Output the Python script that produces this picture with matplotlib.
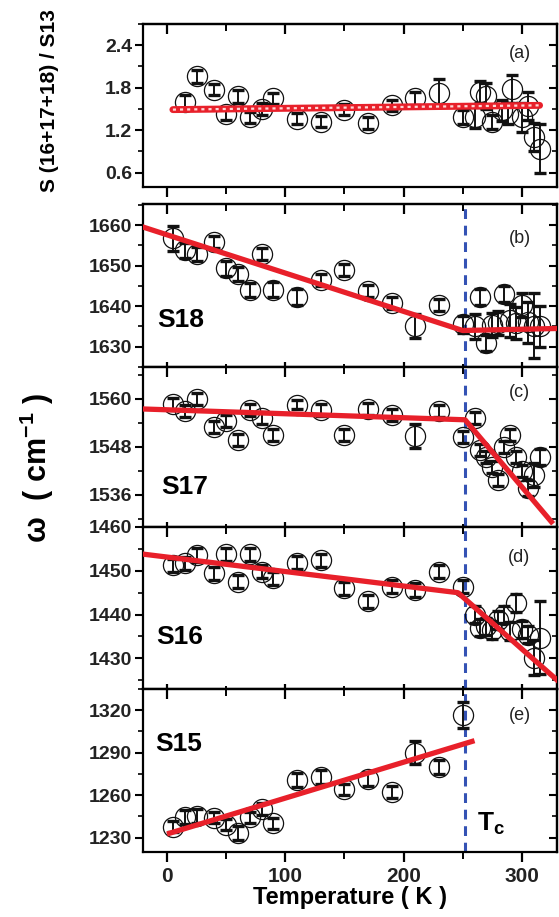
import numpy as np
import matplotlib.pyplot as plt
from matplotlib.ticker import MultipleLocator, FixedLocator

plt.rcParams['font.family'] = ['Liberation Sans', 'DejaVu Sans']
plt.rcParams['font.weight'] = 'bold'
plt.rcParams['mathtext.fontset'] = 'custom'
plt.rcParams['mathtext.rm'] = 'Liberation Sans:bold'
plt.rcParams['mathtext.bf'] = 'Liberation Sans:bold'

# ---- data ----
T_lo = [5, 15, 25, 40, 50, 60, 70, 80, 90, 110, 130, 150, 170, 190, 210, 230, 250]
T_hi = [260, 265, 270, 275, 280, 285, 290, 295, 300, 305, 310, 315]

# (a) intensity ratio
T_a = [15, 25, 40, 50, 60, 70, 80, 90, 110, 130, 150, 170, 190, 210, 230, 250,
       260, 265, 270, 275, 283, 288, 292, 300, 305, 310, 315]
S_a = [1.60, 1.96, 1.77, 1.43, 1.68, 1.38, 1.50, 1.65, 1.36, 1.32, 1.49, 1.30, 1.55, 1.65, 1.72, 1.38,
       1.38, 1.74, 1.68, 1.32, 1.48, 1.43, 1.78, 1.38, 1.54, 1.10, 0.94]
err_a = [0.09, 0.09, 0.08, 0.08, 0.09, 0.08, 0.08, 0.08, 0.08, 0.08, 0.08, 0.08, 0.08, 0.09, 0.2, 0.1,
         0.15, 0.15, 0.18, 0.1, 0.15, 0.15, 0.2, 0.2, 0.2, 0.2, 0.35]
fit_a_T = [5, 315]
fit_a_S = [1.49, 1.55]

# (b) S18
w_b = [1656.7, 1653.8, 1652.9, 1655.9, 1649.3, 1647.9, 1644.0, 1652.8, 1644.1, 1642.2, 1646.4, 1648.9,
       1643.8, 1640.7, 1635.1, 1640.3, 1635.5,
       1635.0, 1642.3, 1631.0, 1635.4, 1635.8, 1643.1, 1636.5, 1635.8, 1640.3, 1636.0, 1635.2, 1635.0]
err_b = [3.2, 1.8, 1.8, 1.5, 1.8, 1.8, 1.8, 1.5, 1.8, 2.0, 1.5, 1.5, 1.5, 1.5, 3.0, 1.5, 2.0,
         3, 2, 2, 3, 3, 2, 4, 4, 3, 5, 8, 5]
fit_b_T = [-20, 250, 330]
fit_b_w = [1659.5, 1634.0, 1634.5]

# (c) S17
w_c = [1558.7, 1556.9, 1560.0, 1552.9, 1554.4, 1549.8, 1557.3, 1555.2, 1551.1, 1558.6, 1557.3, 1551.1,
       1557.5, 1556.1, 1550.8, 1556.9, 1550.6,
       1555.2, 1547.3, 1545.6, 1543.1, 1539.8, 1548.0, 1551.1, 1545.6, 1541.9, 1537.7, 1541.0, 1545.6]
err_c = [1.5, 1.5, 1.5, 1.5, 1.5, 1.5, 1.5, 1.5, 1.5, 1.2, 1.5, 1.5, 1.5, 1.5, 3.0, 1.5, 1.5,
         1.5, 1.5, 1.5, 1.5, 1.5, 1.5, 1.5, 1.5, 1.5, 2.0, 3.0, 2.0]
fit_c_T = [-20, 252, 325]
fit_c_w = [1557.5, 1554.8, 1529.3]

# (d) S16
w_d = [1451.3, 1451.7, 1453.6, 1449.4, 1453.8, 1447.5, 1453.8, 1449.8, 1448.3, 1451.8, 1452.4, 1446.0,
       1443.0, 1446.4, 1445.6, 1449.8, 1446.4,
       1440.0, 1437.0, 1437.3, 1436.5, 1438.8, 1440.0, 1436.2, 1442.6, 1436.6, 1435.4, 1430.2, 1434.7]
err_d = [1.5, 1.5, 1.5, 1.5, 1.5, 1.5, 1.5, 1.5, 1.5, 1.5, 1.5, 1.5, 1.5, 1.5, 1.5, 1.5, 1.5,
         2, 2, 2, 2, 2, 2, 2, 2, 2, 2, 4, 8.3]
fit_d_T = [-20, 246, 330]
fit_d_w = [1453.8, 1445.0, 1425.0]

# (e) S15
w_e = [1237.8, 1244.4, 1245.1, 1244.0, 1239.2, 1233.3, 1244.4, 1250.3, 1240.1, 1270.9, 1272.7, 1264.0,
       1271.1, 1262.1, 1290.0, 1279.8, 1316.5]
err_e = [4, 5, 5, 4, 4, 5, 4, 4, 4, 5, 5, 4, 5, 4, 8, 5, 9]
fit_e_T = [0, 260]
fit_e_w = [1232.5, 1298.5]

T_c = 252

RED = '#e8202a'
BLUE = '#3452b4'

fig = plt.figure(figsize=(5.59, 9.17), dpi=100)
L, W = 0.2564, 0.7406
rects = [(0.7964, 0.1774), (0.5998, 0.1777), (0.4253, 0.1745), (0.2486, 0.1767), (0.0712, 0.1774)]
axes = [fig.add_axes([L, b, W, h]) for b, h in rects]


def style(ax, yticks, yminor, ylim, ticklabels=None, bottom_dir='inout', show_x=False):
    ax.set_xlim(-20, 330)
    ax.set_ylim(*ylim)
    for s in ax.spines.values():
        s.set_linewidth(1.6)
    ax.xaxis.set_major_locator(FixedLocator([0, 100, 200, 300]))
    ax.xaxis.set_minor_locator(FixedLocator([50, 150, 250]))
    ax.yaxis.set_major_locator(FixedLocator(yticks))
    ax.yaxis.set_minor_locator(MultipleLocator(yminor))
    if ticklabels is not None:
        ax.set_yticklabels(ticklabels)
    ax.tick_params(axis='x', which='major', direction=bottom_dir, length=7, width=1.6,
                   labelbottom=show_x, labelsize=15, pad=4)
    ax.tick_params(axis='x', which='minor', direction=bottom_dir, length=5, width=1.4)
    ax.tick_params(axis='y', which='major', direction='out', length=6, width=1.5,
                   labelsize=14, pad=2)
    ax.tick_params(axis='y', which='minor', direction='out', length=3.5, width=1.2)
    top = ax.secondary_xaxis('top')
    top.xaxis.set_major_locator(FixedLocator([0, 100, 200, 300]))
    top.xaxis.set_minor_locator(FixedLocator([50, 150, 250]))
    top.tick_params(which='major', direction='in', length=7, width=1.6, labeltop=False)
    top.tick_params(which='minor', direction='in', length=5, width=1.4)
    top.spines['top'].set_linewidth(1.6)
    right = ax.secondary_yaxis('right')
    right.yaxis.set_major_locator(FixedLocator(yticks))
    right.yaxis.set_minor_locator(MultipleLocator(yminor))
    right.tick_params(which='major', direction='in', length=6, width=1.5, labelright=False)
    right.tick_params(which='minor', direction='in', length=3.5, width=1.2)
    right.spines['right'].set_linewidth(1.6)
    for lab in ax.get_yticklabels() + ax.get_xticklabels():
        lab.set_fontweight('bold')
        lab.set_color('#222222')


def points(ax, T, w, err):
    ax.errorbar(T, w, yerr=err, fmt='none', ecolor='#111111', elinewidth=1.4,
                capsize=4.5, capthick=2.4, zorder=2)
    ax.plot(T, w, 'o', ms=14.5, mfc='none', mec='#111111', mew=0.9, zorder=3)


T_all = T_lo + T_hi

# (a)
ax = axes[0]
points(ax, T_a, S_a, err_a)
ax.plot(fit_a_T, fit_a_S, color=RED, lw=5.0, zorder=4, solid_capstyle='round')
ax.plot(fit_a_T, fit_a_S, color='#ffd6d6', lw=1.6, dashes=(1.4, 1.8), zorder=5)
style(ax, [0.6, 1.2, 1.8, 2.4], 0.3, (0.4, 2.7), ['0.6', '1.2', '1.8', '2.4'], bottom_dir='out')
ax.text(298, 0.82, '(a)', transform=ax.get_xaxis_transform(), ha='center', va='center',
        fontsize=13, fontweight='normal', color='#222222')

# (b)
ax = axes[1]
points(ax, T_all, w_b, err_b)
ax.plot(fit_b_T, fit_b_w, color=RED, lw=3.8, zorder=4)
style(ax, [1630, 1640, 1650, 1660], 5, (1625, 1665.2))
ax.text(298, 0.79, '(b)', transform=ax.get_xaxis_transform(), ha='center', va='center',
        fontsize=13, fontweight='normal', color='#222222')
ax.text(-8, 0.29, 'S18', transform=ax.get_xaxis_transform(), ha='left', va='center',
        fontsize=19, fontweight='bold')

# (c)
ax = axes[2]
points(ax, T_all, w_c, err_c)
ax.plot(fit_c_T, fit_c_w, color=RED, lw=3.8, zorder=4)
style(ax, [1536, 1548, 1560], 6, (1528, 1568))
ax.text(298, 0.84, '(c)', transform=ax.get_xaxis_transform(), ha='center', va='center',
        fontsize=13, fontweight='normal', color='#222222')
ax.text(-5, 0.25, 'S17', transform=ax.get_xaxis_transform(), ha='left', va='center',
        fontsize=19, fontweight='bold')

# (d)
ax = axes[3]
points(ax, T_all, w_d, err_d)
ax.plot(fit_d_T, fit_d_w, color=RED, lw=3.8, zorder=4)
style(ax, [1430, 1440, 1450, 1460], 5, (1423, 1460))
ax.text(298, 0.81, '(d)', transform=ax.get_xaxis_transform(), ha='center', va='center',
        fontsize=13, fontweight='normal', color='#222222')
ax.text(-9, 0.32, 'S16', transform=ax.get_xaxis_transform(), ha='left', va='center',
        fontsize=19, fontweight='bold')

# (e)
ax = axes[4]
points(ax, T_lo, w_e, err_e)
ax.plot(fit_e_T, fit_e_w, color=RED, lw=3.8, zorder=4, solid_capstyle='butt')
style(ax, [1230, 1260, 1290, 1320], 15, (1220, 1335), bottom_dir='out', show_x=True)
ax.text(298, 0.84, '(e)', transform=ax.get_xaxis_transform(), ha='center', va='center',
        fontsize=13, fontweight='normal', color='#222222')
ax.text(-10, 0.66, 'S15', transform=ax.get_xaxis_transform(), ha='left', va='center',
        fontsize=19, fontweight='bold')
ax.text(262, 0.17, r'T$_{\mathregular{c}}$', transform=ax.get_xaxis_transform(), ha='left',
        va='center', fontsize=19, fontweight='bold')
ax.set_xlabel('Temperature ( K )', fontsize=17, fontweight='bold', labelpad=0)

for ax in axes[1:]:
    ax.axvline(T_c, color=BLUE, lw=2.2, dashes=(3.2, 2.2), zorder=1)

fig.text(0.088, 0.89, 'S (16+17+18) / S13', rotation=90, ha='center', va='center',
         fontsize=15, fontweight='bold')
fig.text(0.066, 0.49, r'ω  ( cm$^{\mathregular{-1}}$ )', rotation=90, ha='center',
         va='center', fontsize=22, fontweight='bold')

fig.savefig('out.png', dpi=100)
